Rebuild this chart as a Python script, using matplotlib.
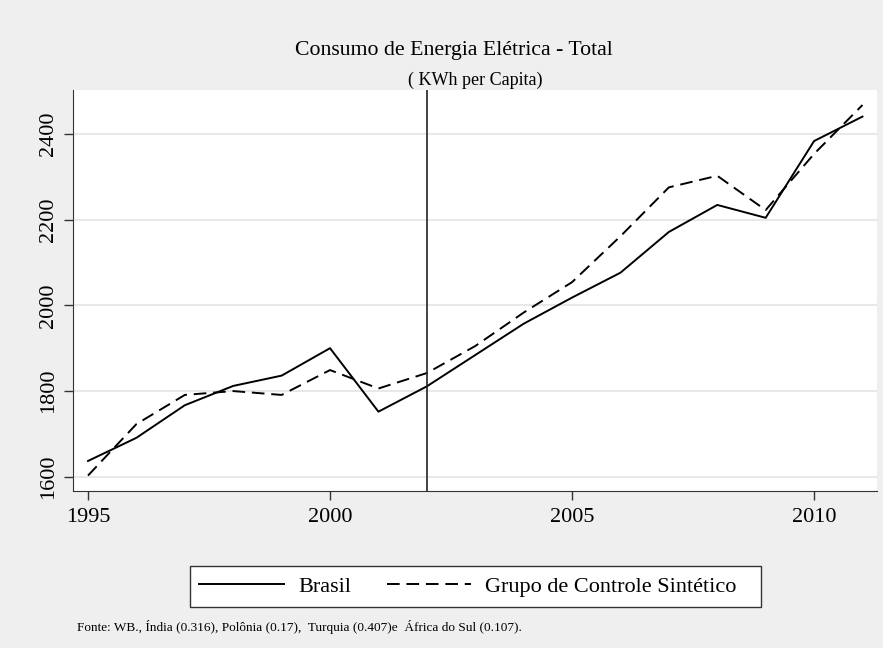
import matplotlib.pyplot as plt
from matplotlib.lines import Line2D
from matplotlib.patches import Rectangle

anos = list(range(1995, 2012))
brasil = [1637, 1691, 1767, 1812, 1836, 1900, 1752, 1811, 1884, 1957,
          2018, 2076, 2171, 2234, 2204, 2383, 2440]
sintetico = [1603, 1723, 1791, 1800, 1791, 1849, 1806, 1842, 1905, 1983,
             2054, 2161, 2275, 2302, 2222, 2353, 2467]
x_ticks = [1995, 2000, 2005, 2010]
y_ticks = [1600, 1800, 2000, 2200, 2400]
ano_tratamento = 2002

plt.rcParams['font.family'] = ['Liberation Serif', 'DejaVu Serif']

W, H = 883, 648
fig = plt.figure(figsize=(W / 100, H / 100), dpi=100, facecolor='#efefef')
# área do gráfico em pixels: x 73-877, y 90-491
ax = fig.add_axes([73 / W, 1 - 491 / H, (877 - 73) / W, (491 - 90) / H])
ax.set_facecolor('white')

tracejado = (0, (6.5, 3.5))
ax.plot(anos, brasil, color='black', lw=1.4, label='Brasil')
ax.plot(anos, sintetico, color='black', lw=1.4, ls=tracejado,
        label='Grupo de Controle Sintético')
ax.axvline(ano_tratamento, color='#222222', lw=1.2)

ax.set_xlim(1994.69, 2011.3)
ax.set_ylim(1567, 2502)
ax.set_xticks(x_ticks)
ax.set_yticks(y_ticks)
ax.set_yticklabels([str(v) for v in y_ticks], rotation=90, va='center')
ax.tick_params(labelsize=16, length=6.5, width=1, color='#333333', pad=4)
ax.tick_params(axis='x', pad=6)
ax.grid(axis='y', color='#e8e8e8', lw=1.5)
ax.set_axisbelow(True)
for s in ['top', 'right']:
    ax.spines[s].set_visible(False)
for s in ['left', 'bottom']:
    ax.spines[s].set_color('#333333')

fig.text(454 / W, 1 - 51 / H, 'Consumo de Energia Elétrica - Total',
         ha='center', va='center', fontsize=15.7)
fig.text(475 / W, 1 - 80 / H, '( KWh per Capita)',
         ha='center', va='center', fontsize=13)

# caixa da legenda (190-761 x 566-607 px)
fig.patches.append(Rectangle((190 / W, 1 - 607 / H), (761 - 190) / W, 41 / H,
                             transform=fig.transFigure, facecolor='white',
                             edgecolor='#333333', lw=1, zorder=1))
handles = [Line2D([], [], color='black', lw=1.4),
           Line2D([], [], color='black', lw=1.4, ls=tracejado)]
leg = fig.legend(handles, ['Brasil', 'Grupo de Controle Sintético'],
                 loc='center', bbox_to_anchor=(468 / W, 1 - 586.5 / H),
                 ncol=2, fontsize=16, frameon=False,
                 handlelength=3.8, handletextpad=0.65,
                 columnspacing=1.6, borderpad=0.25)
leg.set_zorder(2)

fig.text(77 / W, 1 - 627 / H,
         'Fonte: WB., Índia (0.316), Polônia (0.17),  Turquia (0.407)e  África do Sul (0.107).',
         ha='left', va='center', fontsize=9.5)

fig.savefig('out.png', dpi=100, facecolor=fig.get_facecolor())
